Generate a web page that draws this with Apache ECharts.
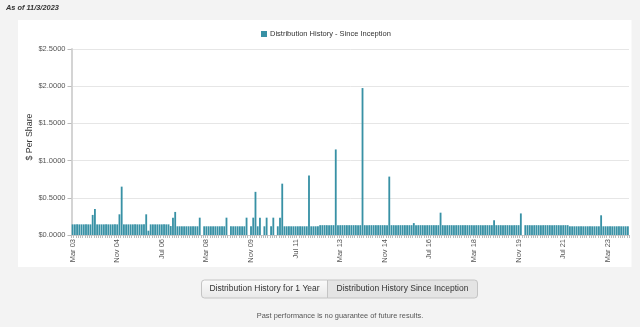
<!DOCTYPE html>
<html>
<head>
<meta charset="utf-8">
<script src="https://cdn.jsdelivr.net/npm/echarts@6/dist/echarts.min.js"></script>
<style>
html,body{margin:0;padding:0;background:#f3f3f3;}
#chart{width:640px;height:327px;}
</style>
</head>
<body>
<div id="chart"></div>
<script>
// ---- data ----
const startYear = 2003, startMonth = 2; // Mar 2003 (0-based month)
const monthNames = ['Jan','Feb','Mar','Apr','May','Jun','Jul','Aug','Sep','Oct','Nov','Dec'];
const distributions = [
  0.143,0.143,0.143,0.143,0.143,0.143,0.143,0.143,0.143,0.27,0.35,0.143,
  0.143,0.143,0.143,0.143,0.143,0.143,0.143,0.143,0.143,0.278,0.65,0.143,
  0.143,0.143,0.143,0.143,0.143,0.143,0.143,0.143,0.143,0.278,0.058,0.143,
  0.143,0.143,0.143,0.143,0.143,0.143,0.143,0.143,0.12,0.233,0.31,0.117,
  0.117,0.117,0.117,0.117,0.117,0.117,0.117,0.117,0.117,0.233,0,0.117,
  0.117,0.117,0.117,0.117,0.117,0.117,0.117,0.117,0.117,0.233,0,0.117,
  0.117,0.117,0.117,0.117,0.117,0.117,0.233,0,0.117,0.233,0.58,0.117,
  0.233,0,0.117,0.233,0,0.117,0.233,0,0.117,0.233,0.69,0.117,
  0.117,0.117,0.117,0.117,0.117,0.117,0.117,0.117,0.117,0.117,0.80,0.117,
  0.117,0.117,0.117,0.132,0.132,0.132,0.132,0.132,0.132,0.132,1.15,0.132,
  0.132,0.132,0.132,0.132,0.132,0.132,0.132,0.132,0.132,0.132,1.975,0.132,
  0.132,0.132,0.132,0.132,0.132,0.132,0.132,0.132,0.132,0.132,0.785,0.132,
  0.132,0.132,0.132,0.132,0.132,0.132,0.132,0.132,0.132,0.16,0.132,0.132,
  0.132,0.132,0.132,0.132,0.132,0.132,0.132,0.132,0.132,0.30,0.132,0.132,
  0.132,0.132,0.132,0.132,0.132,0.132,0.132,0.132,0.132,0.132,0.132,0.132,
  0.132,0.132,0.132,0.132,0.132,0.132,0.132,0.132,0.132,0.197,0.132,0.132,
  0.132,0.132,0.132,0.132,0.132,0.132,0.132,0.132,0.132,0.29,0,0.132,
  0.132,0.132,0.132,0.132,0.132,0.132,0.132,0.132,0.132,0.132,0.132,0.132,
  0.132,0.132,0.132,0.132,0.132,0.132,0.132,0.117,0.117,0.117,0.117,0.117,
  0.117,0.117,0.117,0.117,0.117,0.117,0.117,0.117,0.117,0.265,0.117,0.117,
  0.117,0.117,0.117,0.117,0.117,0.117,0.117,0.117,0.117,0.117
];
const categories = [];
for (let i = 0; i < distributions.length; i++) {
  const m = (startMonth + i) % 12;
  const y = startYear + Math.floor((startMonth + i) / 12);
  categories.push(monthNames[m] + ' ' + String(y % 100).padStart(2, '0'));
}
const yTicks = [0, 0.5, 1.0, 1.5, 2.0, 2.5];
const seriesName = 'Distribution History - Since Inception';
const asOfText = 'As of 11/3/2023';
const yAxisTitle = '$ Per Share';
const buttonLabels = ['Distribution History for 1 Year', 'Distribution History Since Inception'];
const footerText = 'Past performance is no guarantee of future results.';

// ---- chart ----
const FONT = '"Liberation Sans", Arial, sans-serif';
const BAR = '#3891a5';
const chart = echarts.init(document.getElementById('chart'), null, {renderer: 'canvas'});
chart.setOption({
  backgroundColor: '#f3f3f3',
  animation: false,
  textStyle: {fontFamily: FONT},
  graphic: [
    {type: 'rect', z: -10, shape: {x: 18, y: 20, width: 613.5, height: 247}, style: {fill: '#ffffff'}},
    {type: 'text', left: 6, top: 4, style: {text: asOfText, font: 'italic bold 7.4px ' + FONT, fill: '#333'}},
    {type: 'text', x: 30, y: 137, rotation: Math.PI / 2,
      style: {text: yAxisTitle, font: '8.8px ' + FONT, fill: '#333', align: 'center', verticalAlign: 'middle'}},
    {type: 'rect', shape: {x: 201.5, y: 280, width: 126, height: 18, r: [3, 0, 0, 3]},
      style: {fill: new echarts.graphic.LinearGradient(0, 0, 0, 1, [{offset: 0, color: '#fbfbfb'}, {offset: 1, color: '#e8e8e8'}]), stroke: '#c4c4c4', lineWidth: 1}},
    {type: 'rect', shape: {x: 327.5, y: 280, width: 150, height: 18, r: [0, 3, 3, 0]},
      style: {fill: '#e4e4e4', stroke: '#c4c4c4', lineWidth: 1}},
    {type: 'text', x: 264.5, y: 289, style: {text: buttonLabels[0], font: '8.5px ' + FONT, fill: '#333', align: 'center', verticalAlign: 'middle'}},
    {type: 'text', x: 402.5, y: 289, style: {text: buttonLabels[1], font: '8.5px ' + FONT, fill: '#333', align: 'center', verticalAlign: 'middle'}},
    {type: 'text', x: 340, y: 316, style: {text: footerText, font: '7.4px ' + FONT, fill: '#555', align: 'center', verticalAlign: 'middle'}}
  ],
  legend: {
    left: 261, top: 30, padding: 0,
    icon: 'rect', itemWidth: 6, itemHeight: 6, itemGap: 4,
    textStyle: {fontSize: 7.5, color: '#333', fontFamily: FONT, padding: [0, 0, 0, -2]},
    data: [seriesName]
  },
  grid: {left: 71.5, top: 49, width: 557.5, bottom: 92, containLabel: false},
  xAxis: {
    type: 'category',
    data: categories,
    axisLine: {show: true, lineStyle: {color: '#cccccc', width: 1}},
    axisTick: {show: true, interval: 0, length: 3, lineStyle: {color: '#bbbbbb'}},
    axisLabel: {interval: 19, rotate: 90, fontSize: 7.5, color: '#555', margin: 4, fontFamily: FONT},
    splitLine: {show: false}
  },
  yAxis: {
    type: 'value',
    min: 0, max: 2.5, interval: 0.5,
    axisLine: {show: true, lineStyle: {color: '#d4d4d4', width: 2}},
    axisTick: {show: true, length: 4, lineStyle: {color: '#bbbbbb'}},
    axisLabel: {fontSize: 7.5, color: '#555', margin: 6, fontFamily: FONT,
      formatter: v => yTicks.includes(v) ? '$' + v.toFixed(4) : ''},
    splitLine: {show: true, lineStyle: {color: '#e6e6e6', width: 1}}
  },
  series: [{
    name: seriesName,
    type: 'bar',
    data: distributions,
    itemStyle: {color: BAR},
    barCategoryGap: '18%'
  }]
});
</script>
</body>
</html>
